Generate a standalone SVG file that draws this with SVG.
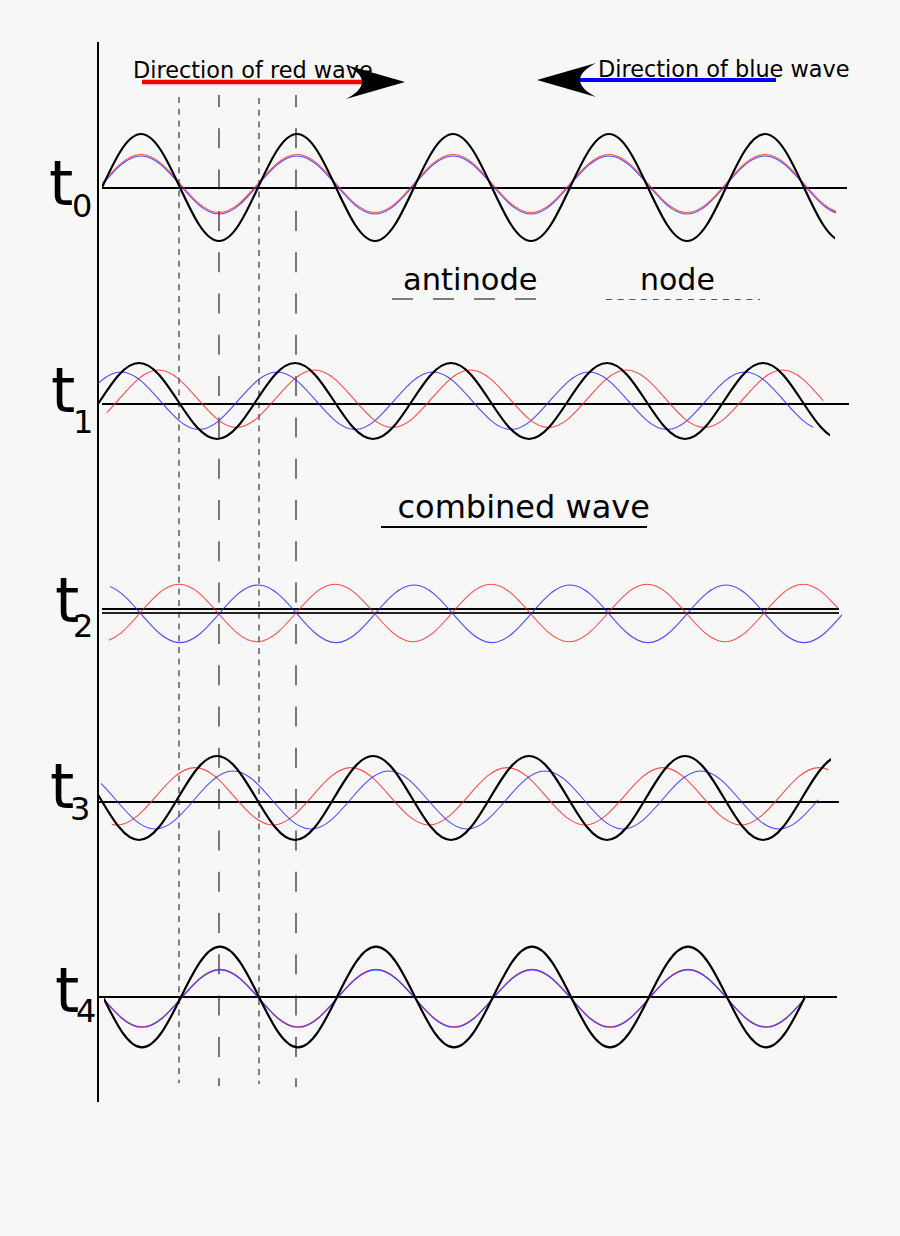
<svg xmlns="http://www.w3.org/2000/svg" width="900" height="1236" viewBox="0 0 900 1236">
<style>
.ax{stroke:#000;stroke-width:2;fill:none}
.bk{stroke:#000;stroke-width:2.2;fill:none}
.rd{stroke:#ff2020;stroke-opacity:0.8;stroke-width:1.1;fill:none}
.bl{stroke:#2020ff;stroke-opacity:0.8;stroke-width:1.1;fill:none}
.nd{stroke:#333;stroke-width:1.2;stroke-dasharray:6 5.7;fill:none}
.an{stroke:#333;stroke-width:1.3;stroke-dasharray:20 21.3;stroke-dashoffset:8;fill:none}
.lbl{font-family:"DejaVu Sans","Liberation Sans",sans-serif;fill:#000}
.tt{font-size:62px}
.sb{font-size:32px}
</style>
<defs>
<clipPath id="c1" clipPathUnits="userSpaceOnUse"><rect x="102" y="0" width="733" height="1236"/></clipPath>
<clipPath id="c2" clipPathUnits="userSpaceOnUse"><rect x="102" y="0" width="734" height="1236"/></clipPath>
<clipPath id="c4" clipPathUnits="userSpaceOnUse"><rect x="98" y="0" width="732" height="1236"/></clipPath>
<clipPath id="c5" clipPathUnits="userSpaceOnUse"><rect x="106.7" y="0" width="716.6" height="1236"/></clipPath>
<clipPath id="c6" clipPathUnits="userSpaceOnUse"><rect x="98" y="0" width="715" height="1236"/></clipPath>
<clipPath id="c7" clipPathUnits="userSpaceOnUse"><rect x="109" y="0" width="729" height="1236"/></clipPath>
<clipPath id="c8" clipPathUnits="userSpaceOnUse"><rect x="110" y="0" width="732" height="1236"/></clipPath>
<clipPath id="c9" clipPathUnits="userSpaceOnUse"><rect x="99" y="0" width="732" height="1236"/></clipPath>
<clipPath id="c10" clipPathUnits="userSpaceOnUse"><rect x="111.7" y="0" width="716.6" height="1236"/></clipPath>
<clipPath id="c11" clipPathUnits="userSpaceOnUse"><rect x="101" y="0" width="717" height="1236"/></clipPath>
<clipPath id="c12" clipPathUnits="userSpaceOnUse"><rect x="104" y="0" width="701" height="1236"/></clipPath>
<clipPath id="c13" clipPathUnits="userSpaceOnUse"><rect x="104" y="0" width="702" height="1236"/></clipPath>
</defs>
<rect width="900" height="1236" fill="#f7f7f7"/>

<g id="axis">
<line class="ax" x1="98" y1="42" x2="98" y2="1102"/>
</g>

<g id="guides">
<line class="nd" x1="179" y1="97" x2="179" y2="1083"/>
<line class="nd" x1="259" y1="98" x2="259" y2="1084"/>
<line class="an" x1="219" y1="95" x2="219" y2="1086"/>
<line class="an" x1="296" y1="95" x2="296" y2="1087"/>
</g>

<g id="connectors">
<line x1="142" y1="82" x2="364" y2="82" stroke="#ff0000" stroke-width="4.5"/>
<path d="M405,82 L346,65 Q378,82 346,99 Z" fill="#000"/>
<line x1="579" y1="80" x2="776" y2="80" stroke="#0000ff" stroke-width="4"/>
<path d="M537,80 L596,63 Q564,80 596,97 Z" fill="#000"/>
</g>

<g id="legend-red">
<text class="lbl" x="133" y="78" font-size="22.4">Direction of red wave</text>
</g>
<g id="legend-blue">
<text class="lbl" x="598" y="77" font-size="22.4">Direction of blue wave</text>
</g>

<g id="legend-antinode">
<text class="lbl" x="403" y="290" font-size="30.5">antinode</text>
<line x1="392" y1="299" x2="538" y2="299" stroke="#555" stroke-width="1.4" stroke-dasharray="21 20"/>
</g>
<g id="legend-node">
<text class="lbl" x="640" y="290" font-size="30">node</text>
<line x1="606" y1="299.5" x2="760" y2="299.5" stroke="#555" stroke-width="1.2" stroke-dasharray="6 5.7"/>
</g>
<g id="legend-combined">
<text class="lbl" x="397.5" y="518" font-size="32">combined wave</text>
<line x1="381" y1="527" x2="647" y2="527" stroke="#000" stroke-width="2"/>
</g>

<g id="t0">
<text class="lbl tt" x="49" y="205">t</text>
<text class="lbl sb" x="72" y="217">0</text>
<line class="ax" x1="102" y1="188" x2="847" y2="188"/>
<path class="bl" clip-path="url(#c2)" d="M102,185 c12.72,-14.86 24.89,-29 39,-29 s26.28,14.14 39,29 s24.89,29 39,29 s26.28,-14.14 39,-29 s24.89,-29 39,-29 s26.28,14.14 39,29 s24.89,29 39,29 s26.28,-14.14 39,-29 s24.89,-29 39,-29 s26.28,14.14 39,29 s24.89,29 39,29 s26.28,-14.14 39,-29 s24.89,-29 39,-29 s26.28,14.14 39,29 s24.89,29 39,29 s26.28,-14.14 39,-29 s24.89,-29 39,-29 s26.28,14.14 39,29 s24.89,29 39,29 s26.28,-14.14 39,-29"/>
<path class="rd" clip-path="url(#c2)" d="M102,183.5 c12.72,-14.86 24.89,-29 39,-29 s26.28,14.14 39,29 s24.89,29 39,29 s26.28,-14.14 39,-29 s24.89,-29 39,-29 s26.28,14.14 39,29 s24.89,29 39,29 s26.28,-14.14 39,-29 s24.89,-29 39,-29 s26.28,14.14 39,29 s24.89,29 39,29 s26.28,-14.14 39,-29 s24.89,-29 39,-29 s26.28,14.14 39,29 s24.89,29 39,29 s26.28,-14.14 39,-29 s24.89,-29 39,-29 s26.28,14.14 39,29 s24.89,29 39,29 s26.28,-14.14 39,-29"/>
<path class="bk" clip-path="url(#c1)" d="M102,187.5 c12.72,-27.41 24.89,-53.5 39,-53.5 s26.28,26.09 39,53.5 s24.89,53.5 39,53.5 s26.28,-26.09 39,-53.5 s24.89,-53.5 39,-53.5 s26.28,26.09 39,53.5 s24.89,53.5 39,53.5 s26.28,-26.09 39,-53.5 s24.89,-53.5 39,-53.5 s26.28,26.09 39,53.5 s24.89,53.5 39,53.5 s26.28,-26.09 39,-53.5 s24.89,-53.5 39,-53.5 s26.28,26.09 39,53.5 s24.89,53.5 39,53.5 s26.28,-26.09 39,-53.5 s24.89,-53.5 39,-53.5 s26.28,26.09 39,53.5 s24.89,53.5 39,53.5 s26.28,-26.09 39,-53.5"/>
</g>

<g id="t1">
<text class="lbl tt" x="51" y="412">t</text>
<text class="lbl sb" x="73" y="433">1</text>
<line class="ax" x1="102" y1="404" x2="849" y2="404"/>
<path class="bl" clip-path="url(#c6)" d="M82,400.7 c12.72,-14.70 24.89,-28.7 39,-28.7 s26.28,14 39,28.7 s24.89,28.7 39,28.7 s26.28,-14 39,-28.7 s24.89,-28.7 39,-28.7 s26.28,14 39,28.7 s24.89,28.7 39,28.7 s26.28,-14 39,-28.7 s24.89,-28.7 39,-28.7 s26.28,14 39,28.7 s24.89,28.7 39,28.7 s26.28,-14 39,-28.7 s24.89,-28.7 39,-28.7 s26.28,14 39,28.7 s24.89,28.7 39,28.7 s26.28,-14 39,-28.7 s24.89,-28.7 39,-28.7 s26.28,14 39,28.7 s24.89,28.7 39,28.7 s26.28,-14 39,-28.7"/>
<path class="rd" clip-path="url(#c5)" d="M-36.5,398.7 c12.72,-14.70 24.89,-28.7 39,-28.7 s26.28,14 39,28.7 s24.89,28.7 39,28.7 s26.28,-14 39,-28.7 s24.89,-28.7 39,-28.7 s26.28,14 39,28.7 s24.89,28.7 39,28.7 s26.28,-14 39,-28.7 s24.89,-28.7 39,-28.7 s26.28,14 39,28.7 s24.89,28.7 39,28.7 s26.28,-14 39,-28.7 s24.89,-28.7 39,-28.7 s26.28,14 39,28.7 s24.89,28.7 39,28.7 s26.28,-14 39,-28.7 s24.89,-28.7 39,-28.7 s26.28,14 39,28.7 s24.89,28.7 39,28.7 s26.28,-14 39,-28.7 s24.89,-28.7 39,-28.7 s26.28,14 39,28.7 s24.89,28.7 39,28.7 s26.28,-14 39,-28.7"/>
<path class="bk" clip-path="url(#c4)" d="M-56,401 c12.72,-19.47 24.89,-38 39,-38 s26.28,18.53 39,38 s24.89,38 39,38 s26.28,-18.53 39,-38 s24.89,-38 39,-38 s26.28,18.53 39,38 s24.89,38 39,38 s26.28,-18.53 39,-38 s24.89,-38 39,-38 s26.28,18.53 39,38 s24.89,38 39,38 s26.28,-18.53 39,-38 s24.89,-38 39,-38 s26.28,18.53 39,38 s24.89,38 39,38 s26.28,-18.53 39,-38 s24.89,-38 39,-38 s26.28,18.53 39,38 s24.89,38 39,38 s26.28,-18.53 39,-38 s24.89,-38 39,-38 s26.28,18.53 39,38 s24.89,38 39,38 s26.28,-18.53 39,-38"/>
</g>

<g id="t2">
<text class="lbl tt" x="55" y="622">t</text>
<text class="lbl sb" x="73" y="637">2</text>
<line class="ax" x1="102" y1="609" x2="839" y2="609"/>
<line x1="102" y1="613" x2="839" y2="613" stroke="#222" stroke-width="1.8"/>
<path class="rd" clip-path="url(#c7)" d="M-16,613 c12.72,-14.70 24.89,-28.7 39,-28.7 s26.28,14 39,28.7 s24.89,28.7 39,28.7 s26.28,-14 39,-28.7 s24.89,-28.7 39,-28.7 s26.28,14 39,28.7 s24.89,28.7 39,28.7 s26.28,-14 39,-28.7 s24.89,-28.7 39,-28.7 s26.28,14 39,28.7 s24.89,28.7 39,28.7 s26.28,-14 39,-28.7 s24.89,-28.7 39,-28.7 s26.28,14 39,28.7 s24.89,28.7 39,28.7 s26.28,-14 39,-28.7 s24.89,-28.7 39,-28.7 s26.28,14 39,28.7 s24.89,28.7 39,28.7 s26.28,-14 39,-28.7 s24.89,-28.7 39,-28.7 s26.28,14 39,28.7 s24.89,28.7 39,28.7 s26.28,-14 39,-28.7"/>
<path class="bl" clip-path="url(#c8)" d="M63,613.8 c12.72,-14.75 24.89,-28.8 39,-28.8 s26.28,14.05 39,28.8 s24.89,28.8 39,28.8 s26.28,-14.05 39,-28.8 s24.89,-28.8 39,-28.8 s26.28,14.05 39,28.8 s24.89,28.8 39,28.8 s26.28,-14.05 39,-28.8 s24.89,-28.8 39,-28.8 s26.28,14.05 39,28.8 s24.89,28.8 39,28.8 s26.28,-14.05 39,-28.8 s24.89,-28.8 39,-28.8 s26.28,14.05 39,28.8 s24.89,28.8 39,28.8 s26.28,-14.05 39,-28.8 s24.89,-28.8 39,-28.8 s26.28,14.05 39,28.8 s24.89,28.8 39,28.8 s26.28,-14.05 39,-28.8 s24.89,-28.8 39,-28.8 s26.28,14.05 39,28.8 s24.89,28.8 39,28.8 s26.28,-14.05 39,-28.8"/>
</g>

<g id="t3">
<text class="lbl tt" x="50" y="808">t</text>
<text class="lbl sb" x="70" y="820">3</text>
<line class="ax" x1="98" y1="802" x2="839" y2="802"/>
<path class="rd" clip-path="url(#c10)" d="M0,796.3 c12.72,-14.70 24.89,-28.7 39,-28.7 s26.28,14 39,28.7 s24.89,28.7 39,28.7 s26.28,-14 39,-28.7 s24.89,-28.7 39,-28.7 s26.28,14 39,28.7 s24.89,28.7 39,28.7 s26.28,-14 39,-28.7 s24.89,-28.7 39,-28.7 s26.28,14 39,28.7 s24.89,28.7 39,28.7 s26.28,-14 39,-28.7 s24.89,-28.7 39,-28.7 s26.28,14 39,28.7 s24.89,28.7 39,28.7 s26.28,-14 39,-28.7 s24.89,-28.7 39,-28.7 s26.28,14 39,28.7 s24.89,28.7 39,28.7 s26.28,-14 39,-28.7 s24.89,-28.7 39,-28.7 s26.28,14 39,28.7 s24.89,28.7 39,28.7 s26.28,-14 39,-28.7"/>
<path class="bl" clip-path="url(#c11)" d="M38,800 c12.72,-14.86 24.89,-29 39,-29 s26.28,14.14 39,29 s24.89,29 39,29 s26.28,-14.14 39,-29 s24.89,-29 39,-29 s26.28,14.14 39,29 s24.89,29 39,29 s26.28,-14.14 39,-29 s24.89,-29 39,-29 s26.28,14.14 39,29 s24.89,29 39,29 s26.28,-14.14 39,-29 s24.89,-29 39,-29 s26.28,14.14 39,29 s24.89,29 39,29 s26.28,-14.14 39,-29 s24.89,-29 39,-29 s26.28,14.14 39,29 s24.89,29 39,29 s26.28,-14.14 39,-29 s24.89,-29 39,-29 s26.28,14.14 39,29 s24.89,29 39,29 s26.28,-14.14 39,-29"/>
<path class="bk" clip-path="url(#c9)" d="M22,798 c12.72,-21.52 24.89,-42 39,-42 s26.28,20.48 39,42 s24.89,42 39,42 s26.28,-20.48 39,-42 s24.89,-42 39,-42 s26.28,20.48 39,42 s24.89,42 39,42 s26.28,-20.48 39,-42 s24.89,-42 39,-42 s26.28,20.48 39,42 s24.89,42 39,42 s26.28,-20.48 39,-42 s24.89,-42 39,-42 s26.28,20.48 39,42 s24.89,42 39,42 s26.28,-20.48 39,-42 s24.89,-42 39,-42 s26.28,20.48 39,42 s24.89,42 39,42 s26.28,-20.48 39,-42 s24.89,-42 39,-42 s26.28,20.48 39,42 s24.89,42 39,42 s26.28,-20.48 39,-42"/>
</g>

<g id="t4">
<text class="lbl tt" x="55" y="1012">t</text>
<text class="lbl sb" x="76" y="1022">4</text>
<line class="ax" x1="99" y1="997" x2="837" y2="997"/>
<path class="rd" clip-path="url(#c13)" d="M25,998 c12.72,-14.70 24.89,-28.7 39,-28.7 s26.28,14 39,28.7 s24.89,28.7 39,28.7 s26.28,-14 39,-28.7 s24.89,-28.7 39,-28.7 s26.28,14 39,28.7 s24.89,28.7 39,28.7 s26.28,-14 39,-28.7 s24.89,-28.7 39,-28.7 s26.28,14 39,28.7 s24.89,28.7 39,28.7 s26.28,-14 39,-28.7 s24.89,-28.7 39,-28.7 s26.28,14 39,28.7 s24.89,28.7 39,28.7 s26.28,-14 39,-28.7 s24.89,-28.7 39,-28.7 s26.28,14 39,28.7 s24.89,28.7 39,28.7 s26.28,-14 39,-28.7 s24.89,-28.7 39,-28.7 s26.28,14 39,28.7 s24.89,28.7 39,28.7 s26.28,-14 39,-28.7"/>
<path class="bl" clip-path="url(#c13)" d="M25,998.6 c12.72,-14.70 24.89,-28.7 39,-28.7 s26.28,14 39,28.7 s24.89,28.7 39,28.7 s26.28,-14 39,-28.7 s24.89,-28.7 39,-28.7 s26.28,14 39,28.7 s24.89,28.7 39,28.7 s26.28,-14 39,-28.7 s24.89,-28.7 39,-28.7 s26.28,14 39,28.7 s24.89,28.7 39,28.7 s26.28,-14 39,-28.7 s24.89,-28.7 39,-28.7 s26.28,14 39,28.7 s24.89,28.7 39,28.7 s26.28,-14 39,-28.7 s24.89,-28.7 39,-28.7 s26.28,14 39,28.7 s24.89,28.7 39,28.7 s26.28,-14 39,-28.7 s24.89,-28.7 39,-28.7 s26.28,14 39,28.7 s24.89,28.7 39,28.7 s26.28,-14 39,-28.7"/>
<path class="bk" clip-path="url(#c12)" d="M25,997 c12.72,-25.77 24.89,-50.3 39,-50.3 s26.28,24.53 39,50.3 s24.89,50.3 39,50.3 s26.28,-24.53 39,-50.3 s24.89,-50.3 39,-50.3 s26.28,24.53 39,50.3 s24.89,50.3 39,50.3 s26.28,-24.53 39,-50.3 s24.89,-50.3 39,-50.3 s26.28,24.53 39,50.3 s24.89,50.3 39,50.3 s26.28,-24.53 39,-50.3 s24.89,-50.3 39,-50.3 s26.28,24.53 39,50.3 s24.89,50.3 39,50.3 s26.28,-24.53 39,-50.3 s24.89,-50.3 39,-50.3 s26.28,24.53 39,50.3 s24.89,50.3 39,50.3 s26.28,-24.53 39,-50.3 s24.89,-50.3 39,-50.3 s26.28,24.53 39,50.3 s24.89,50.3 39,50.3 s26.28,-24.53 39,-50.3"/>
</g>
</svg>
